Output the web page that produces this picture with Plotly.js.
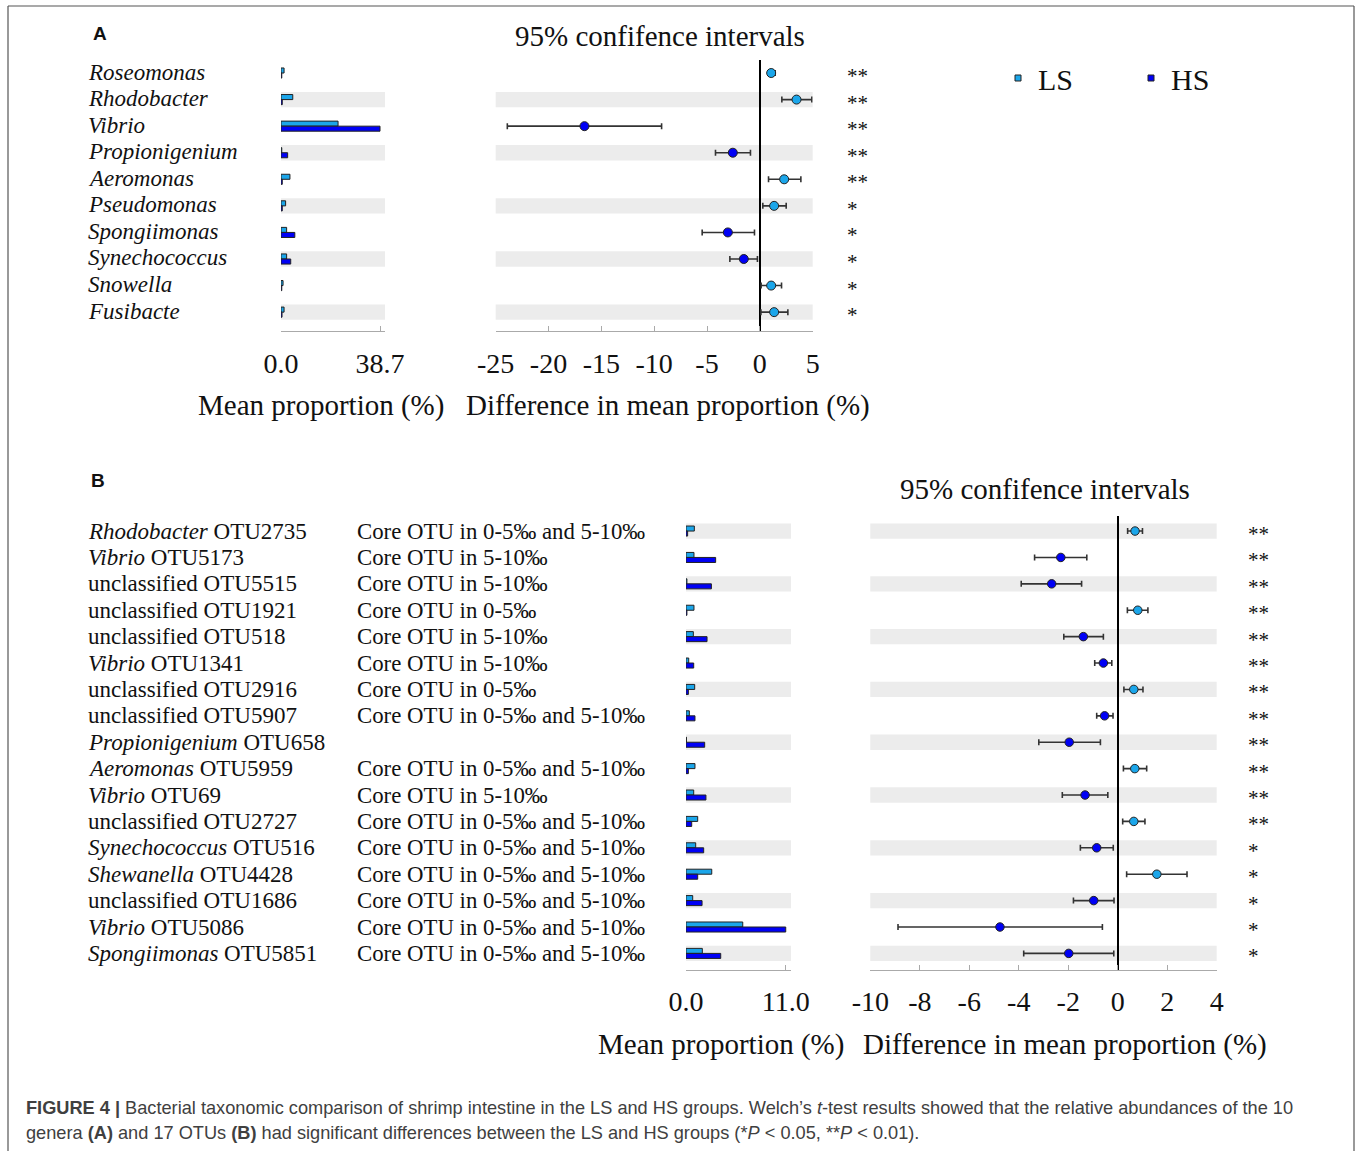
<!DOCTYPE html>
<html>
<head>
<meta charset="utf-8">
<script src="https://cdn.plot.ly/plotly-3.0.1.min.js"></script>
<style>html,body{margin:0;padding:0;background:#fff;}#chart{width:1357px;height:1151px;}</style>
</head>
<body>
<div id="chart"></div>
<script>
// ---------- Panel A data (genera) ----------
const generaA = ['Roseomonas','Rhodobacter','Vibrio','Propionigenium','Aeromonas','Pseudomonas','Spongiimonas','Synechococcus','Snowella','Fusibacte'];
const lsMeanA = [1.2, 4.6, 22.3, 0.3, 3.5, 1.8, 2.2, 2.2, 0.8, 1.2];
const hsMeanA = [0.3, 0.5, 38.7, 2.6, 0.5, 0.5, 5.4, 3.8, 0.3, 0.4];
const diffA = [1.07, 3.47, -16.6, -2.56, 2.3, 1.35, -3.03, -1.52, 1.07, 1.35];
const lowA  = [0.76, 2.08, -23.9, -4.2, 0.82, 0.28, -5.46, -2.84, 0.12, 0.10];
const highA = [1.45, 4.92, -9.3, -0.89, 3.88, 2.49, -0.51, -0.23, 2.05, 2.65];
const sigA = ['**','**','**','**','**','*','*','*','*','*'];
const barTicksA = [0, 38.7];
const barTickTextA = ['0.0', '38.7'];
const ciTicksA = [-25, -20, -15, -10, -5, 0, 5];

// ---------- Panel B data (OTUs) ----------
const otuB = ['OTU2735','OTU5173','OTU5515','OTU1921','OTU518','OTU1341','OTU2916','OTU5907','OTU658','OTU5959','OTU69','OTU2727','OTU516','OTU4428','OTU1686','OTU5086','OTU5851'];
const genusB = ['Rhodobacter','Vibrio','unclassified','unclassified','unclassified','Vibrio','unclassified','unclassified','Propionigenium','Aeromonas','Vibrio','unclassified','Synechococcus','Shewanella','unclassified','Vibrio','Spongiimonas'];
const coreB = ['Core OTU in 0-5‰ and 5-10‰','Core OTU in 5-10‰','Core OTU in 5-10‰','Core OTU in 0-5‰','Core OTU in 5-10‰','Core OTU in 5-10‰','Core OTU in 0-5‰','Core OTU in 0-5‰ and 5-10‰','','Core OTU in 0-5‰ and 5-10‰','Core OTU in 5-10‰','Core OTU in 0-5‰ and 5-10‰','Core OTU in 0-5‰ and 5-10‰','Core OTU in 0-5‰ and 5-10‰','Core OTU in 0-5‰ and 5-10‰','Core OTU in 0-5‰ and 5-10‰','Core OTU in 0-5‰ and 5-10‰'];
const lsMeanB = [0.92, 0.88, 0.1, 0.88, 0.81, 0.3, 0.96, 0.37, 0.05, 0.99, 0.85, 1.29, 1.07, 2.84, 0.74, 6.26, 1.8];
const hsMeanB = [0.18, 3.27, 2.8, 0.1, 2.32, 0.85, 0.26, 0.99, 2.06, 0.26, 2.2, 0.63, 1.95, 1.29, 1.77, 11.0, 3.83];
const diffB = [0.70, -2.30, -2.67, 0.81, -1.39, -0.58, 0.65, -0.53, -1.96, 0.69, -1.32, 0.65, -0.85, 1.58, -0.97, -4.76, -1.98];
const lowB  = [0.40, -3.36, -3.90, 0.39, -2.18, -0.93, 0.25, -0.85, -3.19, 0.23, -2.24, 0.20, -1.51, 0.36, -1.79, -8.88, -3.80];
const highB = [1.00, -1.25, -1.46, 1.22, -0.58, -0.24, 1.02, -0.19, -0.70, 1.17, -0.40, 1.10, -0.18, 2.80, -0.15, -0.62, -0.16];
const sigB = ['**','**','**','**','**','**','**','**','**','**','**','**','*','*','*','*','*'];
const barTicksB = [0, 11];
const barTickTextB = ['0.0', '11.0'];
const ciTicksB = [-10, -8, -6, -4, -2, 0, 2, 4];

const groups = ['LS', 'HS'];
const ciTitle = '95% confifence intervals';
const barAxisTitle = 'Mean proportion (%)';
const ciAxisTitle = 'Difference in mean proportion (%)';

// ---------- styling ----------
const W = 1357, H = 1151;
const px = v => v / W;
const py = v => 1 - v / H;
const LS_COLOR = '#1BA6EA';
const HS_COLOR = '#0000F5';
const EDGE = '#222';
const BAND = '#ECECEC';
const SERIF = 'Liberation Serif, Times New Roman, serif';
const SANS = 'Liberation Sans, Arial, sans-serif';

const traces = [];
function addBars(cats, ls, hs, xa, ya) {
  traces.push({type:'bar', orientation:'h', x: ls, y: cats, xaxis: xa, yaxis: ya, name: groups[0],
    marker:{color: LS_COLOR, line:{color: EDGE, width: 1}}, showlegend:false, hoverinfo:'skip'});
  traces.push({type:'bar', orientation:'h', x: hs, y: cats, xaxis: xa, yaxis: ya, name: groups[1],
    marker:{color: HS_COLOR, line:{color: EDGE, width: 1}}, showlegend:false, hoverinfo:'skip'});
}
function addCI(cats, d, lo, hi, xa, ya, msize) {
  traces.push({type:'scatter', mode:'markers', x: d, y: cats, xaxis: xa, yaxis: ya,
    error_x:{type:'data', symmetric:false, array: hi.map((h,i)=>h-d[i]), arrayminus: d.map((v,i)=>v-lo[i]),
      color:'#333', thickness:1.6, width:3},
    marker:{size: msize, color: d.map(v => v > 0 ? LS_COLOR : HS_COLOR), line:{color:'#222', width:1}},
    showlegend:false, hoverinfo:'skip'});
}
addBars(generaA, lsMeanA, hsMeanA, 'x', 'y');
addCI(generaA, diffA, lowA, highA, 'x2', 'y', 9);
addBars(otuB, lsMeanB, hsMeanB, 'x3', 'y2');
addCI(otuB, diffB, lowB, highB, 'x4', 'y2', 8.5);
// legend entries
[LS_COLOR, HS_COLOR].forEach((c, i) => traces.push({type:'scatter', mode:'markers', x:[null], y:[null], xaxis:'x2', yaxis:'y',
  name: groups[i], marker:{symbol:'square', size:6, color:c, line:{color:'#222', width:1}}, showlegend:true, hoverinfo:'skip'}));

const tickFont = {family: SERIF, size: 28, color: '#111'};
function xaxisDef(domain, range, tickvals, ticktext, anchor, zero) {
  return {domain, range, anchor, tickmode:'array', tickvals, ticktext, showgrid:false,
    zeroline: zero, zerolinecolor:'#000', zerolinewidth:2.2,
    showline:true, linecolor:'#aaa', linewidth:1, ticks:'inside', ticklen:5, tickcolor:'#aaa',
    tickfont: tickFont, ticklabelstandoff: 7, fixedrange:true};
}
function yaxisDef(domain, range) {
  return {domain, range, type:'category', showgrid:false, zeroline:false, showline:false,
    showticklabels:false, ticks:'', fixedrange:true};
}

const shapes = [];
function addBands(n, xrefs, yref) {
  for (let i = 0; i < n; i++) {
    if (i % 2 === (yref === 'y' ? 1 : 0)) {
      xrefs.forEach(xr => shapes.push({type:'rect', layer:'below', xref: xr + ' domain', x0:0, x1:1,
        yref: yref, y0: i - 0.29, y1: i + 0.29, fillcolor: BAND, line:{width:0}}));
    }
  }
}
addBands(generaA.length, ['x', 'x2'], 'y');
addBands(otuB.length, ['x3', 'x4'], 'y2');
// figure frame
shapes.push({type:'line', xref:'paper', yref:'paper', x0:px(8), x1:px(8), y0:py(6), y1:0, line:{color:'#555', width:1.2}});
shapes.push({type:'line', xref:'paper', yref:'paper', x0:px(1354), x1:px(1354), y0:py(6), y1:0, line:{color:'#555', width:1.2}});
shapes.push({type:'line', xref:'paper', yref:'paper', x0:px(8), x1:px(1354), y0:py(6), y1:py(6), line:{color:'#555', width:1.2}});

const ann = [];
const labFont = {family: SERIF, size: 23, color: '#111'};
const starFont = {family: SERIF, size: 21, color: '#111'};
generaA.forEach((g, i) => {
  ann.push({xref:'paper', yref:'y', x:px(86), y:i, text:'<i>'+g+'</i>', showarrow:false, xanchor:'left', yanchor:'middle', yshift:1, font: labFont});
  ann.push({xref:'paper', yref:'y', x:px(845), y:i, text: sigA[i], showarrow:false, xanchor:'left', yanchor:'middle', yshift:-3, font: starFont});
});
otuB.forEach((o, i) => {
  const g = genusB[i] === 'unclassified' ? 'unclassified' : '<i>' + genusB[i] + '</i>';
  ann.push({xref:'paper', yref:'y2', x:px(86), y:i, text: g + ' ' + o, showarrow:false, xanchor:'left', yanchor:'middle', font: labFont});
  if (coreB[i]) ann.push({xref:'paper', yref:'y2', x:px(355), y:i, text: coreB[i], showarrow:false, xanchor:'left', yanchor:'middle', font: {family: SERIF, size: 22.8, color: '#111'}});
  ann.push({xref:'paper', yref:'y2', x:px(1246), y:i, text: sigB[i], showarrow:false, xanchor:'left', yanchor:'middle', yshift:-3, font: starFont});
});
const titleFont = {family: SERIF, size: 29, color: '#111'};
function txt(x, y, t, f, xa) { ann.push({xref:'paper', yref:'paper', x:px(x), y:py(y), text:t, showarrow:false, xanchor: xa || 'center', yanchor:'middle', font:f}); }
txt(660, 36, ciTitle, titleFont);
txt(1045, 489, ciTitle, titleFont);
txt(321, 406, barAxisTitle, titleFont);
txt(668, 406, ciAxisTitle, titleFont);
txt(721, 1044, barAxisTitle, titleFont);
txt(1065, 1044, ciAxisTitle, titleFont);
txt(100, 34, '<b>A</b>', {family: SANS, size: 19, color:'#111'});
txt(98, 481, '<b>B</b>', {family: SANS, size: 19, color:'#111'});
const capFont = {family: 'Liberation Sans, Arial, sans-serif', size: 18.2, color: '#404040'};
txt(24, 1108, '<b>FIGURE 4 |</b> Bacterial taxonomic comparison of shrimp intestine in the LS and HS groups. Welch\u2019s <i>t</i>-test results showed that the relative abundances of the 10', capFont, 'left');
txt(24, 1133, 'genera <b>(A)</b> and 17 OTUs <b>(B)</b> had significant differences between the LS and HS groups (*<i>P</i> < 0.05, **<i>P</i> < 0.01).', capFont, 'left');

const layout = {
  width: W, height: H, margin:{l:0, r:0, t:0, b:0, pad:0},
  paper_bgcolor:'#fff', plot_bgcolor:'rgba(0,0,0,0)',
  barmode:'group', bargap:0.62, bargroupgap:0,
  font:{family: SERIF, color:'#111'},
  xaxis:  xaxisDef([px(281), px(385)], [0, 40.65], barTicksA, barTickTextA, 'y', false),
  xaxis2: xaxisDef([px(495.7), px(812.7)], [-25, 5], ciTicksA, ciTicksA.map(String), 'y', true),
  xaxis3: xaxisDef([px(686), px(791)], [0, 11.58], barTicksB, barTickTextB, 'y2', false),
  xaxis4: xaxisDef([px(870.3), px(1216.7)], [-10, 4], ciTicksB, ciTicksB.map(String), 'y2', true),
  yaxis:  yaxisDef([py(331), py(60)], [9.71, -0.49]),
  yaxis2: yaxisDef([py(969.5), py(516)], [16.61, -0.57]),
  shapes: shapes,
  annotations: ann,
  showlegend: true,
  legend:{orientation:'h', x:px(998), y:py(78), xanchor:'left', yanchor:'middle', bgcolor:'rgba(0,0,0,0)',
    font:{family: SERIF, size: 30, color:'#111'}, entrywidth: 88, entrywidthmode:'pixels', itemclick:false, itemdoubleclick:false}
};
Plotly.newPlot('chart', traces, layout, {staticPlot:true, displayModeBar:false});
</script>
</body>
</html>
